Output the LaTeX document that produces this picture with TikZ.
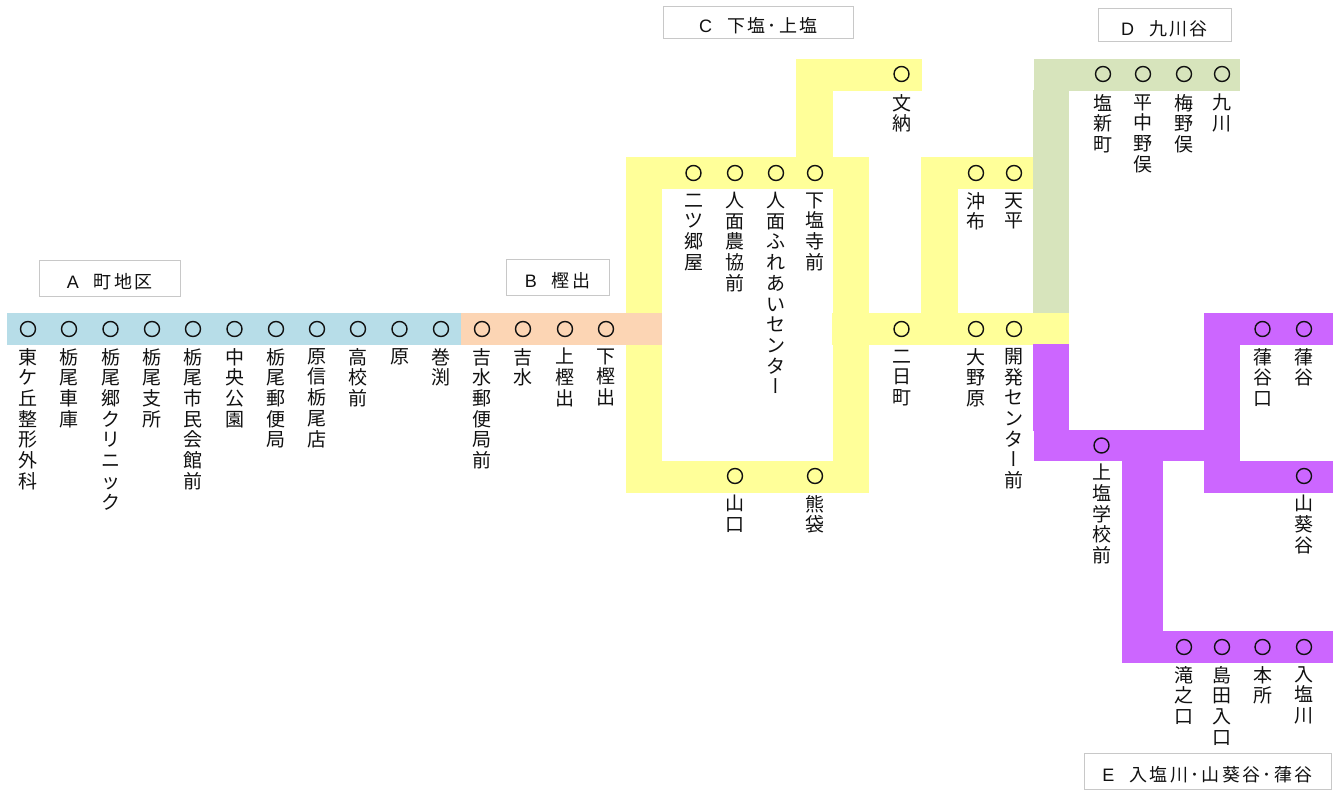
\documentclass[tikz,border=0pt]{standalone}
\usepackage{fontspec}
\setmainfont{Liberation Sans}
\newfontfamily\jpf{Noto Sans CJK JP}
\newfontfamily\jpv[RawFeature={+vert}]{Noto Sans CJK JP}
\newfontfamily\jpt[LetterSpace=13]{Noto Sans CJK JP}
\definecolor{bandA}{HTML}{B7DDE8}
\definecolor{bandB}{HTML}{FCD5B4}
\definecolor{bandC}{HTML}{FFFF99}
\definecolor{bandD}{HTML}{D7E4BC}
\definecolor{bandE}{HTML}{CC66FF}
\definecolor{boxline}{HTML}{C8C8C8}
\definecolor{ink}{HTML}{111111}
\newcommand{\cho}{{\jpv ー}}
\makeatletter
\def\tateloop#1{\ifx#1\relax\else\hbox to 20pt{\hss\rule{0pt}{15pt}#1\hss}\expandafter\tateloop\fi}
\newcommand{\tatetext}[1]{\vbox{\baselineskip=20.7pt\lineskiplimit=-100pt\jpf\fontsize{19pt}{20.7pt}\selectfont\tateloop#1\relax}}
\makeatother
\tikzset{
  band/.style={fill=#1,draw=none},
  stn/.style={circle,draw=ink,line width=1.4pt,minimum size=15pt,inner sep=0pt,outer sep=0pt},
  tatelab/.style={anchor=north,inner sep=0pt,outer sep=0pt,yshift=7.8pt,text=ink},
  titlebox/.style={draw=boxline,line width=1pt,fill=white,inner sep=0pt,outer sep=0pt,text=ink}
}
% name, x, circle y, first character y, text
\newcommand{\stnlab}[5]{%
  \node[stn] (s#1) at (#2,#3) {};
  \node[tatelab] (l#1) at (#2,#4) {\tatetext{#5}};
}
% name, left, top, right, bottom, dy, text
\newcommand{\ttl}[7]{%
  \node[titlebox,minimum width=#4pt-#2pt,minimum height=#5pt-#3pt] (#1) at ({(#2+#4)/2},{(#3+#5)/2}) {\raisebox{-#6pt}[0pt][0pt]{\fontsize{18pt}{20pt}\selectfont #7}};
}
\begin{document}
\begin{tikzpicture}[x=1pt,y=-1pt]
\useasboundingbox (0,0) rectangle (1335,790);
% yellow
\fill[band=bandC] (626,157) rectangle (869,189);
\fill[band=bandC] (626,157) rectangle (662,493);
\fill[band=bandC] (626,461) rectangle (869,493);
\fill[band=bandC] (833,157) rectangle (869,493);
\fill[band=bandC] (796,59) rectangle (833,157);
\fill[band=bandC] (796,59) rectangle (921.5,91);
\fill[band=bandC] (921,157) rectangle (958,313);
\fill[band=bandC] (921,157) rectangle (1033,189);
% green
\fill[band=bandD] (1033,90) rectangle (1069,313);
\fill[band=bandD] (1034,59) rectangle (1240,91);
% yellow crossing
\fill[band=bandC] (832,313) rectangle (1069,345);
% blue, peach
\fill[band=bandA] (7,313) rectangle (461,345);
\fill[band=bandB] (461,313) rectangle (662,345);
% purple
\fill[band=bandE] (1033,344) rectangle (1069,431);
\fill[band=bandE] (1034,430) rectangle (1240,461);
\fill[band=bandE] (1122,461) rectangle (1163,663);
\fill[band=bandE] (1122,631) rectangle (1333,663);
\fill[band=bandE] (1204,313) rectangle (1240,493);
\fill[band=bandE] (1204,313) rectangle (1333,345);
\fill[band=bandE] (1204,461) rectangle (1333,493);
% A
\stnlab{a1}{28}{329}{356}{東ケ丘整形外科}
\stnlab{a2}{69}{329}{356}{栃尾車庫}
\stnlab{a3}{110.5}{329}{356}{栃尾郷クリニック}
\stnlab{a4}{152}{329}{356}{栃尾支所}
\stnlab{a5}{193}{329}{356}{栃尾市民会館前}
\stnlab{a6}{234.5}{329}{356}{中央公園}
\stnlab{a7}{276}{329}{356}{栃尾郵便局}
\stnlab{a8}{317}{329}{356}{原信栃尾店}
\stnlab{a9}{358}{329}{356}{高校前}
\stnlab{a10}{399.5}{329}{356}{原}
\stnlab{a11}{441}{329}{356}{巻渕}
% B
\stnlab{b1}{482}{329}{356}{吉水郵便局前}
\stnlab{b2}{523}{329}{356}{吉水}
\stnlab{b3}{565}{329}{356}{上樫出}
\stnlab{b4}{606}{329}{356}{下樫出}
% C
\stnlab{c1}{693.5}{173}{200}{二ツ郷屋}
\stnlab{c2}{735}{173}{200}{人面農協前}
\stnlab{c3}{776}{173}{200}{人面ふれあいセンタ\cho}
\stnlab{c4}{815}{173}{200}{下塩寺前}
\stnlab{c5}{901.5}{74}{102}{文納}
\stnlab{c6}{735}{476}{503}{山口}
\stnlab{c7}{815}{476}{503}{熊袋}
\stnlab{c8}{901.5}{329}{356}{二日町}
\stnlab{c9}{976}{329}{356}{大野原}
\stnlab{c10}{1014}{329}{356}{開発センタ\cho 前}
\stnlab{c11}{976}{173}{200}{沖布}
\stnlab{c12}{1014}{173}{200}{天平}
% D
\stnlab{d1}{1103}{74}{102}{塩新町}
\stnlab{d2}{1143}{74}{102}{平中野俣}
\stnlab{d3}{1184}{74}{102}{梅野俣}
\stnlab{d4}{1222}{74}{102}{九川}
% E
\stnlab{e1}{1262.5}{329}{356}{葎谷口}
\stnlab{e2}{1304}{329}{356}{葎谷}
\stnlab{e3}{1304}{476}{503}{山葵谷}
\stnlab{e4}{1101.5}{445.5}{472}{上塩学校前}
\stnlab{e5}{1184}{647}{674}{滝之口}
\stnlab{e6}{1222}{647}{674}{島田入口}
\stnlab{e7}{1262.5}{647}{674}{本所}
\stnlab{e8}{1304}{647}{674}{入塩川}
% titles
\ttl{ta}{39.5}{260.5}{180}{296}{10}{A\hspace{15pt}{\jpt 町地区}}
\ttl{tb}{506}{259.5}{609}{295}{10}{B\hspace{15pt}{\jpt 樫出}}
\ttl{tc}{663.5}{6}{853}{38}{10.5}{C\hspace{15pt}{\jpt 下塩･上塩}}
\ttl{td}{1098}{8.5}{1231}{41}{10.5}{D\hspace{15pt}{\jpt 九川谷}}
\ttl{te}{1084}{753.5}{1331}{789}{10}{E\hspace{15pt}{\jpt 入塩川･山葵谷･葎谷}}
\end{tikzpicture}
\end{document}
